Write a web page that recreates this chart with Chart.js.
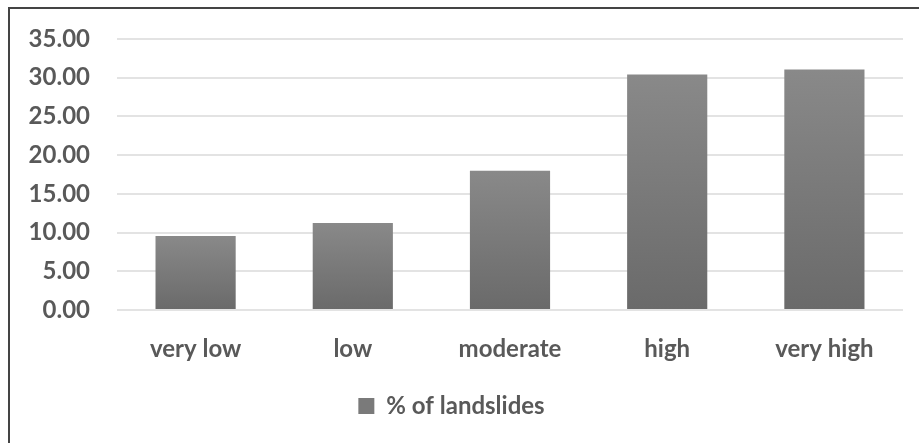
<!DOCTYPE html>
<html>
<head>
<meta charset="utf-8">
<script src="https://cdn.jsdelivr.net/npm/chart.js@4"></script>
<style>
  body { margin: 0; background: #fff; }
  #wrap { position: relative; width: 919px; height: 443px; }
  #frame { position: absolute; left: 8px; top: 7px; width: 940px; height: 460px;
           border-top: 2px solid #444; border-left: 2px solid #444; }
  canvas { position: absolute; left: 0; top: 0; }
</style>
</head>
<body>
<div id="wrap">
  <div id="frame"></div>
  <canvas id="landslides" width="919" height="443"></canvas>
</div>
<script>
// data
const classes = ['very low', 'low', 'moderate', 'high', 'very high'];
const landslidePct = [9.57, 11.25, 17.98, 30.4, 31.05];
const seriesName = '% of landslides';

const textGrey = '#595959';
const fontFamily = 'Lato, "Open Sans", sans-serif';

function barFill(context) {
    const chart = context.chart;
    const yScale = chart.scales && chart.scales.y;
    if (context.dataIndex === undefined || !chart.chartArea || !yScale) {
        return '#7a7a7a';
    }
    const top = yScale.getPixelForValue(context.raw);
    const bottom = yScale.getPixelForValue(0);
    const g = chart.ctx.createLinearGradient(0, top, 0, bottom);
    g.addColorStop(0, '#898989');
    g.addColorStop(1, '#6a6a6a');
    return g;
}

const ctx = document.getElementById('landslides');
const LandslideChart = new Chart(ctx, {
    type: 'bar',
    data: {
        labels: classes,
        datasets: [{
            label: seriesName,
            data: landslidePct,
            backgroundColor: barFill,
            borderWidth: 0,
            categoryPercentage: 1,
            barPercentage: 0.51,
        }]
    },
    options: {
        responsive: false,
        animation: false,
        devicePixelRatio: 1,
        layout: {
            padding: { left: 0, right: 16, top: 20, bottom: 15 }
        },
        plugins: {
            tooltip: { enabled: false },
            legend: {
                position: 'bottom',
                labels: {
                    color: textGrey,
                    boxWidth: 16,
                    boxHeight: 16,
                    padding: 10,
                    font: { family: fontFamily, size: 24, weight: 'bold' },
                    generateLabels: function (chart) {
                        return [{
                            text: seriesName,
                            fillStyle: '#7a7a7a',
                            strokeStyle: '#7a7a7a',
                            lineWidth: 0,
                            fontColor: textGrey,
                            datasetIndex: 0,
                        }];
                    }
                }
            }
        },
        scales: {
            x: {
                afterFit: function (scale) { scale.height = 74; },
                grid: { display: false },
                border: { display: false },
                ticks: {
                    color: textGrey,
                    padding: 17,
                    font: { family: fontFamily, size: 24, weight: 'bold' }
                }
            },
            y: {
                min: 0,
                max: 35,
                afterFit: function (scale) { scale.width = 117; },
                grid: { color: '#e3e3e3', lineWidth: 2, drawTicks: false },
                border: { display: false },
                ticks: {
                    stepSize: 5,
                    color: textGrey,
                    padding: 27,
                    font: { family: fontFamily, size: 24, weight: 'bold', lineHeight: 1 },
                    callback: function (v) { return Number(v).toFixed(2); }
                }
            }
        }
    }
});
</script>
</body>
</html>
